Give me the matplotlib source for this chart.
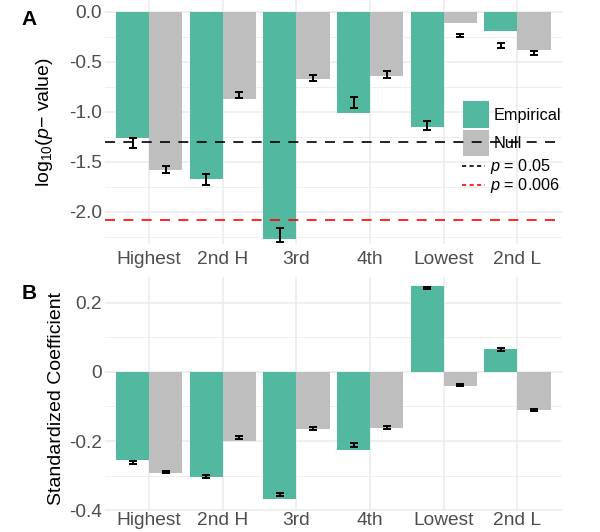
import matplotlib
matplotlib.use("Agg")
import matplotlib.pyplot as plt
import numpy as np
from matplotlib.patches import Patch
from matplotlib.lines import Line2D

plt.rcParams['font.family'] = ['Liberation Sans', 'DejaVu Sans']
plt.rcParams['axes.unicode_minus'] = False
plt.rcParams['mathtext.fontset'] = 'custom'
plt.rcParams['mathtext.rm'] = 'Liberation Sans'
plt.rcParams['mathtext.it'] = 'Liberation Sans:italic'

# data
categories = ["Highest", "2nd H", "3rd", "4th", "Lowest", "2nd L"]

# panel A: log10(p-value)
emp_p = [-1.26, -1.67, -2.27, -1.01, -1.15, -0.19]
emp_p_mean = [-1.31, -1.675, -2.23, -0.91, -1.135, -0.34]
emp_p_err = [0.05, 0.055, 0.07, 0.055, 0.045, 0.025]
null_p = [-1.58, -0.87, -0.67, -0.64, -0.11, -0.38]
null_p_mean = [-1.575, -0.83, -0.665, -0.63, -0.237, -0.41]
null_p_err = [0.035, 0.03, 0.03, 0.035, 0.015, 0.02]
p_lines = [-1.301, -2.08]
p_line_labels = ["$p$ = 0.05", "$p$ = 0.006"]

# panel B: standardized coefficient
emp_b = [-0.254, -0.303, -0.368, -0.225, 0.248, 0.066]
emp_b_mean = [-0.261, -0.302, -0.354, -0.211, 0.242, 0.064]
emp_b_err = [0.004, 0.004, 0.005, 0.005, 0.004, 0.004]
null_b = [-0.291, -0.199, -0.166, -0.161, -0.040, -0.110]
null_b_mean = [-0.289, -0.190, -0.163, -0.161, -0.038, -0.110]
null_b_err = [0.003, 0.004, 0.004, 0.004, 0.003, 0.003]

teal = "#52B9A0"
gray = "#BEBEBE"
grid_col = "#EBEBEB"
tick_col = "#4D4D4D"

x = np.arange(1, len(categories) + 1)
w = 0.45

fig = plt.figure(figsize=(6, 5.32), dpi=100)
axA = fig.add_axes([0.175, 0.5414, 0.761, 0.4586])
axB = fig.add_axes([0.175, 0.0395, 0.761, 0.4404])


def style(ax, ylim, yticks, yticklabels, minor, xpad):
    ax.set_xlim(0.4, 6.6)
    ax.set_ylim(*ylim)
    ax.set_xticks(x)
    ax.set_xticklabels(categories)
    ax.set_yticks(yticks)
    ax.set_yticklabels(yticklabels)
    ax.set_yticks(minor, minor=True)
    for s in ax.spines.values():
        s.set_visible(False)
    ax.set_axisbelow(True)
    ax.grid(True, which='major', color=grid_col, lw=1.1)
    ax.grid(True, which='minor', axis='y', color=grid_col, lw=0.6)
    ax.tick_params(which='both', length=0, labelsize=13.8, labelcolor=tick_col)
    ax.tick_params(axis='x', pad=xpad)
    ax.tick_params(axis='y', pad=2)


def bars(ax, emp, emp_m, emp_e, nul, nul_m, nul_e, cap):
    ax.bar(x - w / 2, emp, w, color=teal, zorder=2)
    ax.bar(x + w / 2, nul, w, color=gray, zorder=2)
    ax.errorbar(x - w / 2, emp_m, yerr=emp_e, fmt='none', ecolor='black',
                elinewidth=1.4, capsize=cap, capthick=1.4, zorder=3)
    ax.errorbar(x + w / 2, nul_m, yerr=nul_e, fmt='none', ecolor='black',
                elinewidth=1.4, capsize=cap, capthick=1.4, zorder=3)


# ---- panel A
style(axA, (-2.32, 0.117), [0, -0.5, -1.0, -1.5, -2.0],
      ["0.0", "-0.5", "-1.0", "-1.5", "-2.0"],
      [-0.25, -0.75, -1.25, -1.75, -2.25], 5)
bars(axA, emp_p, emp_p_mean, emp_p_err, null_p, null_p_mean, null_p_err, 2.6)
axA.axhline(p_lines[0], color='black', lw=1.2, dashes=(6, 5), zorder=4)
axA.axhline(p_lines[1], color='red', lw=1.2, dashes=(6, 5), zorder=4)
axA.set_ylabel("log$_{10}$($p$$-$ value)", fontsize=14, color='black')
axA.yaxis.set_label_coords(-0.109, 0.5)

fill_handles = [Patch(facecolor=teal, edgecolor='none'),
                Patch(facecolor=gray, edgecolor='none')]
leg1 = axA.legend(fill_handles, ["Empirical", "Null"], loc='upper left',
                  bbox_to_anchor=(0.783, 0.584), frameon=False, fontsize=11.7,
                  handlelength=1.6, handleheight=2.1, handletextpad=0.3,
                  labelspacing=0.12, borderpad=0, borderaxespad=0)
leg1.set_zorder(2.5)
axA.add_artist(leg1)
line_handles = [Line2D([], [], color='black', lw=1.2, dashes=(2.5, 2)),
                Line2D([], [], color='red', lw=1.2, dashes=(2.5, 2))]
leg2 = axA.legend(line_handles, p_line_labels, loc='upper left',
                  bbox_to_anchor=(0.781, 0.355), frameon=False, fontsize=11.7,
                  handlelength=1.45, handletextpad=0.3, labelspacing=0.0,
                  borderpad=0, borderaxespad=0)
leg2.set_zorder(2.5)

# ---- panel B
style(axB, (-0.402, 0.275), [0.2, 0, -0.2, -0.4],
      ["0.2", "0", "-0.2", "-0.4"], [0.1, -0.1, -0.3], 1)
bars(axB, emp_b, emp_b_mean, emp_b_err, null_b, null_b_mean, null_b_err, 2.8)
axB.set_ylabel("Standardized Coefficient", fontsize=14, color='black')
axB.yaxis.set_label_coords(-0.087, 0.48)

fig.text(0.049, 0.963, "A", fontsize=15, fontweight='bold', ha='center', va='center')
fig.text(0.049, 0.449, "B", fontsize=15, fontweight='bold', ha='center', va='center')

fig.savefig("out.png", dpi=100)
